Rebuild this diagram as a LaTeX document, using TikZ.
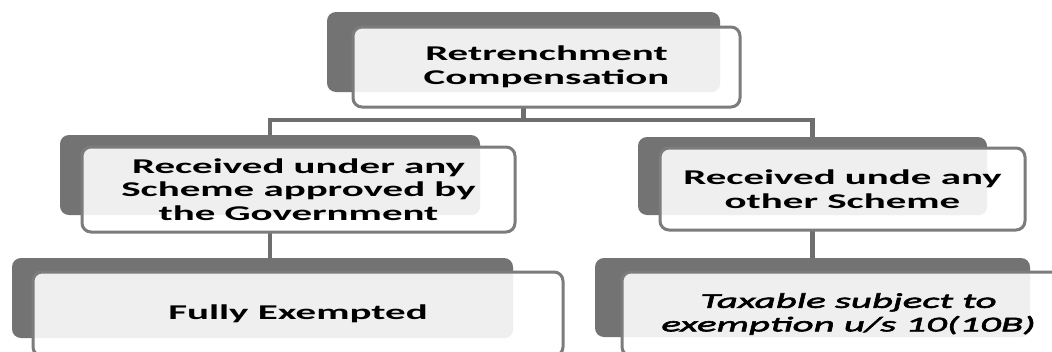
\documentclass[tikz,border=0pt]{standalone}
\usepackage{fontspec}
\setmainfont{Carlito}[FakeStretch=1.95]
\newfontfamily\slantfont{Carlito}[FakeStretch=1.95, UprightFont=*-Italic, FakeBold=3]
\usetikzlibrary{backgrounds}

\definecolor{shade}{HTML}{737373}
\definecolor{edge}{HTML}{7C7C7C}
\definecolor{panel}{HTML}{EFEFEF}
\definecolor{wire}{HTML}{6E6E6E}

\tikzset{
  backbox/.style={fill=shade, rounded corners=9pt, inner sep=0pt, draw=none},
  frontbox/.style={draw=edge, line width=3pt, fill=white, rounded corners=9pt,
    inner sep=0pt, align=center, text=black,
    font=\fontsize{21}{23.5}\selectfont\bfseries,
    path picture={\fill[panel, rounded corners=9pt] (#1.north west) rectangle (#1.south east);}},
  wireline/.style={draw=wire, line width=4.5pt}
}

\begin{document}
\begin{tikzpicture}[x=1pt, y=-1pt]
\useasboundingbox (0,0) rectangle (1052,351);

% top level
\node[backbox, minimum width=393pt, minimum height=80pt] (topb) at (523.5,52) {};
\node[frontbox=topb, minimum width=387pt, minimum height=80pt] (top) at (546.5,67)
  {Retrenchment\\Compensation};

% second level
\node[backbox, minimum width=420pt, minimum height=80pt] (midLb) at (270,175) {};
\node[frontbox=midLb, minimum width=433pt, minimum height=85pt] (midL) at (298.5,189.5)
  {Received under any\\Scheme approved by\\the Government};

\node[backbox, minimum width=349pt, minimum height=78pt] (midRb) at (812.5,176) {};
\node[frontbox=midRb, minimum width=365pt, minimum height=82pt] (midR) at (842.5,189)
  {Received unde any\\other Scheme};

% third level
\node[backbox, minimum width=501pt, minimum height=80pt] (botLb) at (262.5,298) {};
\node[frontbox=botLb, minimum width=530pt, minimum height=84pt] (botL) at (298,314)
  {Fully Exempted};

\node[backbox, minimum width=435pt, minimum height=79pt] (botRb) at (812.5,297.5) {};
\node[frontbox=botRb, minimum width=453pt, minimum height=84pt,
  font=\fontsize{21}{23.5}\selectfont\slantfont] (botR) at (848.5,314)
  {Taxable subject to\\exemption u/s 10(10B)};

\coordinate (bus) at (0,120);

\begin{scope}[on background layer]
  \fill[white] (0,0) rectangle (1052,351);
  \draw[wireline] (topb.south) -- (topb.south |- bus);
  \draw[wireline] (midLb.north) -- (midLb.north |- bus) -- (midRb.north |- bus) -- (midRb.north);
  \draw[wireline] (midLb.south) -- (midLb.south |- botLb.north);
  \draw[wireline] (midRb.south) -- (midRb.south |- botRb.north);
\end{scope}
\end{tikzpicture}
\end{document}
